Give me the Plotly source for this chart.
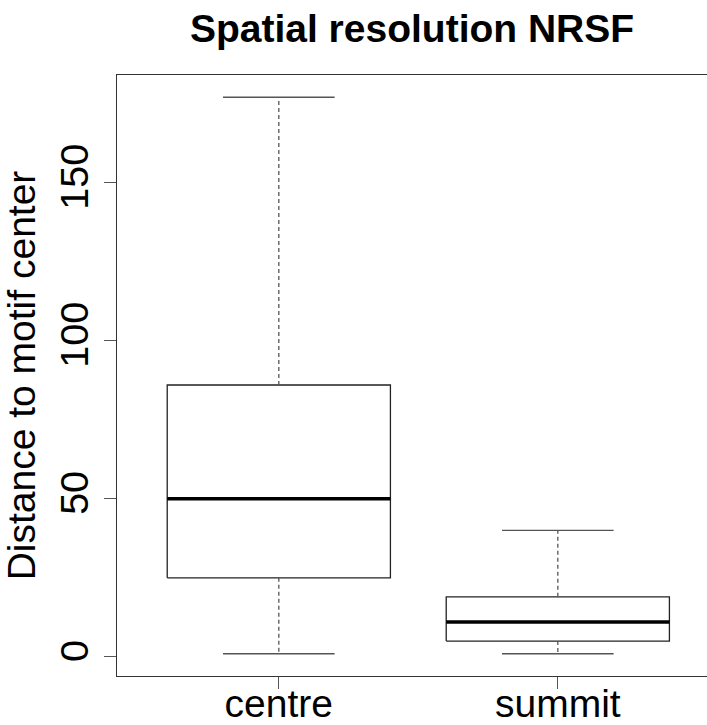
import plotly.graph_objects as go

# Data
groups = ["centre", "summit"]
lower_whisker = [1, 1]
q1 = [25, 5]
median = [50, 11]
q3 = [86, 19]
upper_whisker = [177, 40]
y_ticks = [0, 50, 100, 150]

title = "Spatial resolution NRSF"
y_title = "Distance to motif center"

FONT = "Liberation Sans, Arial, Helvetica, sans-serif"
half_box = 0.4
half_cap = 0.2

fig = go.Figure()
for i, g in enumerate(groups):
    xc = i + 1
    # box
    fig.add_trace(go.Scatter(
        x=[xc - half_box, xc + half_box, xc + half_box, xc - half_box, xc - half_box],
        y=[q1[i], q1[i], q3[i], q3[i], q1[i]],
        mode="lines", line=dict(color="#222222", width=1.3),
        hoverinfo="skip", showlegend=False))
    # whiskers (dashed)
    for a, b in [(q3[i], upper_whisker[i]), (q1[i], lower_whisker[i])]:
        fig.add_trace(go.Scatter(
            x=[xc, xc], y=[a, b], mode="lines",
            line=dict(color="#555555", width=1.3, dash="4px,3px"),
            hoverinfo="skip", showlegend=False))
    # caps
    for v in [upper_whisker[i], lower_whisker[i]]:
        fig.add_trace(go.Scatter(
            x=[xc - half_cap, xc + half_cap], y=[v, v], mode="lines",
            line=dict(color="#555555", width=1.3),
            hoverinfo="skip", showlegend=False))
    # median
    fig.add_trace(go.Scatter(
        x=[xc - half_box, xc + half_box], y=[median[i], median[i]],
        mode="lines", line=dict(color="#000000", width=3.5),
        hoverinfo="skip", showlegend=False))

ymin = min(lower_whisker)
ymax = max(upper_whisker)
pad = (ymax - ymin) * 0.04

fig.update_layout(
    width=707, height=725,
    margin=dict(l=117, r=0, t=75, b=49),
    plot_bgcolor="white", paper_bgcolor="white",
    font=dict(family=FONT, color="black"),
    title=dict(text="<b>" + title + "</b>", x=0.5, xref="paper", xanchor="center",
               y=1 - 42 / 725, yref="container", yanchor="bottom",
               font=dict(size=39, family=FONT, color="black"), pad=dict(b=0)),
    xaxis=dict(range=[0.42, 0.42 + 590 / 279], tickmode="array",
               tickvals=[i + 1 for i in range(len(groups))], ticktext=groups,
               showgrid=False, zeroline=False, showline=True, mirror=True,
               linecolor="#333333", linewidth=1.3, ticks="outside", ticklen=12,
               tickcolor="#555555", tickfont=dict(size=39, family=FONT),
               ticklabelstandoff=-19, automargin=False),
    yaxis=dict(range=[ymin - pad, ymax + pad], tickmode="array", tickvals=y_ticks,
               ticktext=[str(t) for t in y_ticks], tickangle=-90,
               showgrid=False, zeroline=False, showline=True, mirror=False,
               linecolor="#333333", linewidth=1.3, ticks="outside", ticklen=12,
               tickcolor="#555555", tickfont=dict(size=39.5, family=FONT),
               automargin=False,
               title=dict(text=y_title, font=dict(size=39, family=FONT), standoff=9)),
)

fig.write_html("out.html")
